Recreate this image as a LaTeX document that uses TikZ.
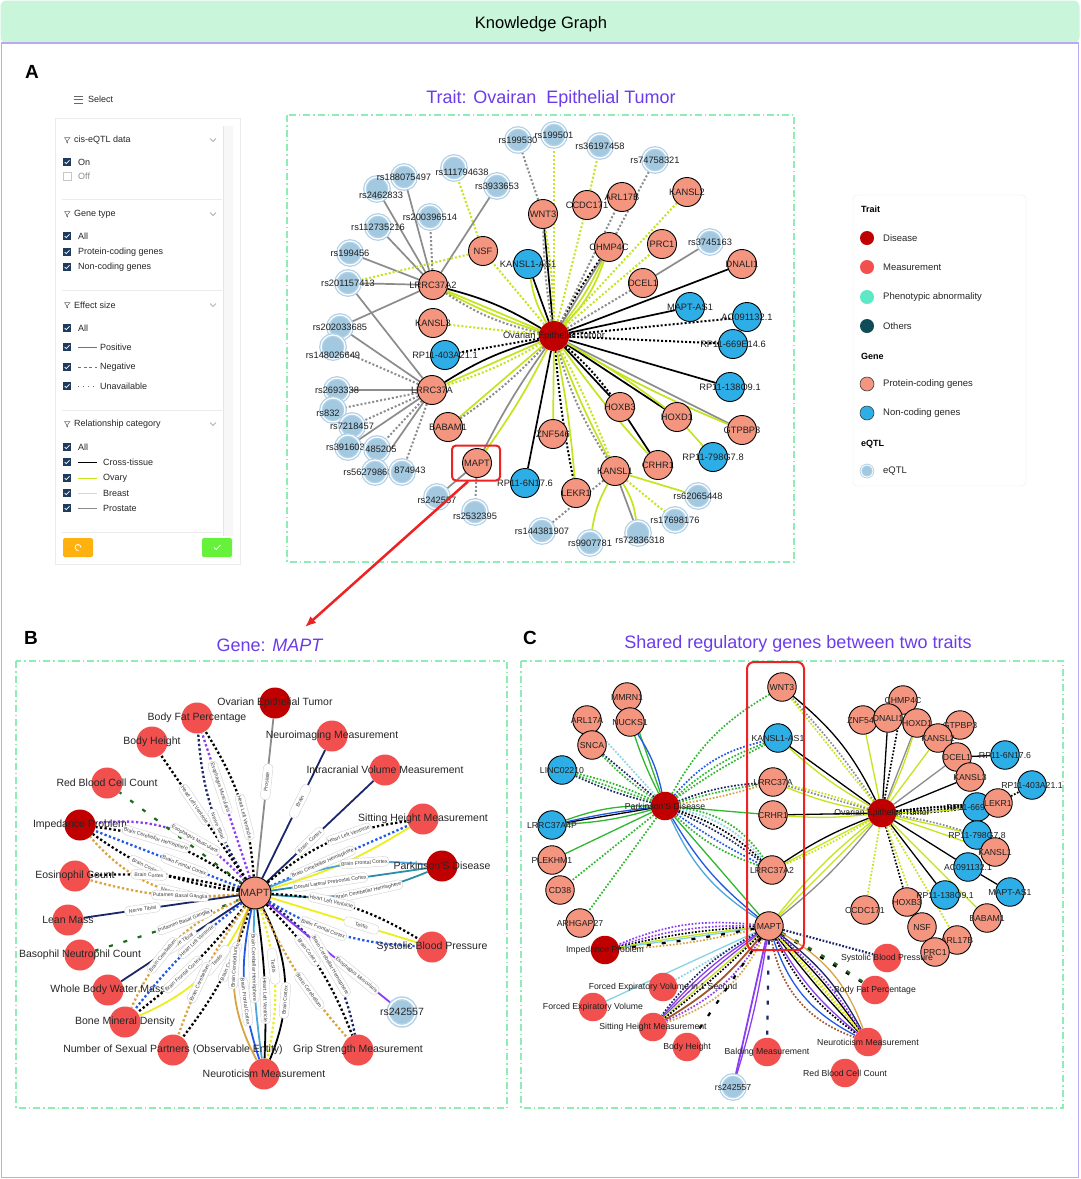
\documentclass[tikz,border=0pt]{standalone}
\usepackage{fontspec}
\setmainfont{Liberation Sans}
\usetikzlibrary{arrows.meta}
\pgfdeclarelayer{back}\pgfdeclarelayer{bg}
\pgfsetlayers{back,bg,main}
\newcommand\myfs[1]{\fontsize{#1}{#1}\selectfont}
\definecolor{hdrCol}{HTML}{C9F5DB}
\definecolor{frameCol}{HTML}{B9A9F3}
\definecolor{titleCol}{HTML}{6C3BEB}
\definecolor{boxCol}{HTML}{8EEDB5}
\definecolor{disCol}{HTML}{C00000}
\definecolor{measCol}{HTML}{F24F4F}
\definecolor{pcCol}{HTML}{F4957F}
\definecolor{ncCol}{HTML}{2DAEE6}
\definecolor{eqCol}{HTML}{A3C9E1}
\definecolor{eqRCol}{HTML}{B3D2E7}
\definecolor{phenCol}{HTML}{5FE8C5}
\definecolor{othCol}{HTML}{0F4C58}
\definecolor{limeCol}{HTML}{C4E41E}
\definecolor{yelCol}{HTML}{EDEE1C}
\definecolor{grayCol}{HTML}{8C8C8C}
\definecolor{navyCol}{HTML}{1B2768}
\definecolor{purpCol}{HTML}{8B3DF2}
\definecolor{blueCol}{HTML}{2258E6}
\definecolor{goldCol}{HTML}{D6A443}
\definecolor{tealCol}{HTML}{2A8EA6}
\definecolor{ltblCol}{HTML}{4BA6DE}
\definecolor{ltlCol}{HTML}{86D3E3}
\definecolor{grnCol}{HTML}{2EB82E}
\definecolor{brnCol}{HTML}{A0562A}
\definecolor{dgrnCol}{HTML}{1D6B1D}
\definecolor{cbCol}{HTML}{1E3A5C}
\definecolor{redCol}{HTML}{EE2222}
\definecolor{orCol}{HTML}{FFB20F}
\definecolor{gbCol}{HTML}{66F23A}
\tikzset{
 dbox/.style={draw=boxCol, line width=1.3pt, dash pattern=on 7pt off 3pt on 1.5pt off 3pt},
 lblA/.style={font=\myfs{9.3}, inner sep=0pt, text=black!88},
 geneA/.style={circle, draw=black, line width=0.9pt, minimum size=29pt, inner sep=0pt, label={[lblA]center:#1}},
 pcA/.style={geneA={#1}, fill=pcCol},
 ncA/.style={geneA={#1}, fill=ncCol},
 eqA/.style={circle, fill=eqCol, draw=eqRCol, double=white, double distance=1.2pt, line width=1.3pt, minimum size=24pt, inner sep=0pt, label={[lblA]center:#1}},
 eqAo/.style n args={3}{circle, fill=eqCol, draw=eqRCol, double=white, double distance=1.2pt, line width=1.3pt, minimum size=24pt, inner sep=0pt, label={[lblA,xshift=#2,yshift=#3]center:#1}},
 disA/.style={circle, fill=disCol, minimum size=30pt, inner sep=0pt, label={[lblA]center:#1}},
 solA/.style={line width=1.7pt},
 dotA/.style={line width=2pt, dash pattern=on 2pt off 2pt},
 lblB/.style={font=\myfs{10.5}, inner sep=0pt, text=black!85},
 msB/.style={circle, fill=measCol, minimum size=31pt, inner sep=0pt, label={[lblB]center:#1}},
 disB/.style={circle, fill=disCol, minimum size=31pt, inner sep=0pt, label={[lblB]center:#1}},
 eqB/.style={circle, fill=eqCol, draw=eqRCol, double=white, double distance=1.4pt, line width=1.5pt, minimum size=27pt, inner sep=0pt, label={[lblB]center:#1}},
 pcB/.style={circle, draw=black, line width=1pt, fill=pcCol, minimum size=32pt, inner sep=0pt, label={[lblB]center:#1}},
 solB/.style={line width=1.8pt},
 dotB/.style={line width=2.3pt, dash pattern=on 2.3pt off 2.3pt},
 tl/.style={draw=black!18, fill=white, rounded corners=4pt, font=\myfs{5.2}, inner sep=1.4pt, minimum height=9.5pt, minimum width=36pt, sloped, text=black!75},
 lblC/.style={font=\myfs{8.7}, inner sep=0pt, text=black!88},
 geneC/.style={circle, draw=black, line width=0.9pt, minimum size=28.5pt, inner sep=0pt, label={[lblC]center:#1}},
 pcG/.style={geneC={#1}, fill=pcCol},
 ncG/.style={geneC={#1}, fill=ncCol},
 msG/.style={circle, fill=measCol, minimum size=28.5pt, inner sep=0pt, label={[lblC]center:#1}},
 disG/.style={circle, fill=disCol, minimum size=28.5pt, inner sep=0pt, label={[lblC]center:#1}},
 eqG/.style={circle, fill=eqCol, draw=eqRCol, double=white, double distance=1.2pt, line width=1.3pt, minimum size=24pt, inner sep=0pt, label={[lblC]center:#1}},
 solC/.style={line width=1.3pt},
 dotC/.style={line width=1.7pt, dash pattern=on 1.7pt off 1.7pt},
 dashL/.style={line width=2.2pt, dash pattern=on 4pt off 11pt},
 sbtext/.style={anchor=west, font=\myfs{9}, text=black!85, inner sep=0pt},
 chk/.pic={\fill[cbCol] (-4.2,-4.2) rectangle (4.2,4.2); \draw[white,line width=0.7pt] (-2.3,0) -- (-0.7,1.7) -- (2.5,-1.8);},
 funnel/.pic={\draw[black!60, line width=0.5pt] (-2.5,-2.5) -- (3,-2.5) -- (0.7,0.5) -- (0.7,3) -- (-0.5,2) -- (-0.5,0.5) -- cycle;},
}
\newcommand\bedge[5]{\begin{pgfonlayer}{bg}\draw[#1] (bM) to[#2] (#5);\end{pgfonlayer}\path (bM) to[#2] node[tl,pos=#3]{#4} (#5);}
\newcommand\bline[3]{\begin{pgfonlayer}{bg}\draw[#1] (bM) to[#2] (#3);\end{pgfonlayer}}
\begin{document}
\begin{tikzpicture}[x=1pt,y=-1pt]
\useasboundingbox (0,0) rectangle (1080,1179);
\begin{pgfonlayer}{back}
\fill[white] (0,0) rectangle (1080,1179);
\path[fill=hdrCol, rounded corners=6pt] (0.5,0.5) rectangle (1079.5,43);
\draw[frameCol, line width=1.5pt] (1.5,43) rectangle (1078.5,1177.5);
\draw[dbox] (287,115) rectangle (794,562);
\draw[dbox] (16,661) rectangle (507,1108);
\draw[dbox] (521,661) rectangle (1063,1108);
\end{pgfonlayer}
\node[font=\myfs{16.5}] (hdr) at (541,24) {Knowledge Graph};
\node[font=\bfseries\myfs{19}] (LA) at (32,72) {A};
\node[font=\bfseries\myfs{19}] (LB) at (31,638) {B};
\node[font=\bfseries\myfs{19}] (LC) at (530,638) {C};
\node[font=\myfs{18}, text=titleCol] (tA) at (551,99) {Trait: Ovairan\ \ Epithelial Tumor};
\node[font=\myfs{18}, text=titleCol] (tB) at (270,645) {Gene: \textit{MAPT}};
\node[font=\myfs{18}, text=titleCol] (tC) at (798,644) {Shared regulatory genes between two traits};
% ---------------- sidebar
\draw[black!60, line width=0.6pt] (74,96) -- (83,96) (74,99.5) -- (83,99.5) (74,103) -- (83,103);
\node[sbtext] (sel) at (88,99.5) {Select};
\node[fill=white, draw=black!8, minimum width=185pt, minimum height=446pt, anchor=north west] (sb) at (55,118) {};
\fill[black!3] (223,126) rectangle (233,536);
\draw[black!10] (223,126) -- (223,536);
\foreach \yy in {199,290,410,532} {\draw[black!8] (62,\yy) -- (222,\yy);}
\foreach \yy in {140,214,305,424} {\pic at (67,\yy) {funnel}; \draw[black!45, line width=0.5pt] (210,\yy-1.5) -- (213,\yy+1.5) -- (216,\yy-1.5);}
\node[sbtext] (s1) at (74,140) {cis-eQTL data};
\pic at (67,162) {chk}; \node[sbtext] (s1a) at (78,162) {On};
\draw[black!22] (63,172) rectangle (71,180); \node[sbtext, text=black!45] (s1b) at (78,176) {Off};
\node[sbtext] (s2) at (74,214) {Gene type};
\pic at (67,236) {chk}; \node[sbtext] (s2a) at (78,236) {All};
\pic at (67,252) {chk}; \node[sbtext] (s2b) at (78,252) {Protein-coding genes};
\pic at (67,267) {chk}; \node[sbtext] (s2c) at (78,267) {Non-coding genes};
\node[sbtext] (s3) at (74,305) {Effect size};
\pic at (67,328) {chk}; \node[sbtext] (s3a) at (78,328) {All};
\pic at (67,347) {chk}; \draw[black!55, line width=0.6pt] (78,347) -- (97,347); \node[sbtext] (s3b) at (100,347) {Positive};
\pic at (67,367) {chk}; \draw[black!55, line width=0.6pt, dash pattern=on 3pt off 2.5pt] (78,367) -- (97,367); \node[sbtext] (s3c) at (100,367) {Negative};
\pic at (67,386) {chk}; \draw[black!55, line width=0.6pt, dash pattern=on 1pt off 4pt] (78,386) -- (97,386); \node[sbtext] (s3d) at (100,386) {Unavailable};
\node[sbtext] (s4) at (74,424) {Relationship category};
\pic at (67,447) {chk}; \node[sbtext] (s4a) at (78,447) {All};
\pic at (67,462) {chk}; \draw[black, line width=0.7pt] (78,462) -- (97,462); \node[sbtext] (s4b) at (103,462) {Cross-tissue};
\pic at (67,478) {chk}; \draw[limeCol, line width=0.9pt] (78,478) -- (97,478); \node[sbtext] (s4c) at (103,478) {Ovary};
\pic at (67,493) {chk}; \draw[yelCol, line width=0.9pt] (78,493) -- (97,493); \node[sbtext] (s4d) at (103,493) {Breast};
\pic at (67,508) {chk}; \draw[grayCol, line width=0.7pt] (78,508) -- (97,508); \node[sbtext] (s4e) at (103,508) {Prostate};
\node[fill=orCol, rounded corners=1.5pt, minimum width=30pt, minimum height=19pt] (bt1) at (78,547.5) {};
\draw[white, line width=0.8pt] ([xshift=3pt]bt1.center) arc[start angle=0, end angle=280, radius=3pt];
\node[fill=gbCol, rounded corners=1.5pt, minimum width=30pt, minimum height=19pt] (bt2) at (217,547.5) {};
\draw[white, line width=0.8pt] ([xshift=-3pt]bt2.center) -- ([xshift=-0.8pt,yshift=-2pt]bt2.center) -- ([xshift=3.5pt,yshift=2.5pt]bt2.center);
% ---------------- legend
\node[draw=black!7, fill=white, rounded corners=4pt, minimum width=173pt, minimum height=291pt] (leg) at (939.5,340.5) {};
\node[font=\bfseries\myfs{9}, anchor=west, inner sep=0] (lgT) at (861,209) {Trait};
\node[circle, fill=disCol, minimum size=14pt, inner sep=0] (lg1) at (867,238) {};
\node[anchor=west, font=\myfs{9.5}, inner sep=0, text=black!85] (lg1t) at (883,238) {Disease};
\node[circle, fill=measCol, minimum size=14pt, inner sep=0] (lg2) at (867,267) {};
\node[anchor=west, font=\myfs{9.5}, inner sep=0, text=black!85] (lg2t) at (883,267) {Measurement};
\node[circle, fill=phenCol, minimum size=14pt, inner sep=0] (lg3) at (867,297) {};
\node[anchor=west, font=\myfs{9.5}, inner sep=0, text=black!85] (lg3t) at (883,297) {Phenotypic abnormality};
\node[circle, fill=othCol, minimum size=14pt, inner sep=0] (lg4) at (867,326) {};
\node[anchor=west, font=\myfs{9.5}, inner sep=0, text=black!85] (lg4t) at (883,326) {Others};
\node[font=\bfseries\myfs{9}, anchor=west, inner sep=0] (lgG) at (861,356) {Gene};
\node[circle, fill=pcCol, draw=black!75, line width=0.6pt, minimum size=14pt, inner sep=0] (lg5) at (867,384) {};
\node[anchor=west, font=\myfs{9.5}, inner sep=0, text=black!85] (lg5t) at (883,384) {Protein-coding genes};
\node[circle, fill=ncCol, draw=black!75, line width=0.6pt, minimum size=14pt, inner sep=0] (lg6) at (867,413) {};
\node[anchor=west, font=\myfs{9.5}, inner sep=0, text=black!85] (lg6t) at (883,413) {Non-coding genes};
\node[font=\bfseries\myfs{9}, anchor=west, inner sep=0] (lgE) at (861,444) {eQTL};
\node[circle, fill=eqCol, draw=eqRCol, double=white, double distance=0.8pt, line width=0.9pt, minimum size=12pt, inner sep=0] (lg7) at (867,471) {};
\node[anchor=west, font=\myfs{9.5}, inner sep=0, text=black!85] (lg7t) at (883,471) {eQTL};
% ---------------- panel A nodes
\node[eqA=rs199530] (ar199530) at (518,140) {};
\node[eqA=rs199501] (ar199501) at (554,135) {};
\node[eqA=rs36197458] (ar36197458) at (600,146) {};
\node[eqA=rs74758321] (ar74758321) at (655,160) {};
\node[eqAo={rs2462833}{4pt}{-6pt}] (ar2462833) at (377,189) {};
\node[eqA=rs188075497] (ar188075497) at (404,177) {};
\node[eqAo={rs111794638}{8pt}{-4pt}] (ar111794638) at (454,168) {};
\node[eqA=rs3933653] (ar3933653) at (497,186) {};
\node[eqA=rs200396514] (ar200396514) at (430,217) {};
\node[eqA=rs112735216] (ar112735216) at (378,227) {};
\node[eqA=rs199456] (ar199456) at (350,253) {};
\node[eqA=rs201157413] (ar201157413) at (348,283) {};
\node[eqA=rs202033685] (ar202033685) at (340,327) {};
\node[eqAo={rs148026649}{0pt}{-8pt}] (ar148026649) at (333,347) {};
\node[eqA=rs2693338] (ar2693338) at (337,390) {};
\node[eqAo={rs832}{-5pt}{-3pt}] (ar832) at (333,410) {};
\node[eqA=rs7218457] (ar7218457) at (352,426) {};
\node[eqA=rs3916033] (ar3916033) at (348,447) {};
\node[eqAo={485205}{4pt}{0pt}] (ar485205) at (377,449) {};
\node[eqAo={rs56279866}{-7pt}{0pt}] (ar56279866) at (375,472) {};
\node[eqAo={874943}{8pt}{2pt}] (ar874943) at (402,472) {};
\node[eqA=rs3745163] (ar3745163) at (710,242) {};
\node[eqA=rs62065448] (ar62065448) at (698,496) {};
\node[eqAo={rs242557}{0pt}{-3pt}] (ar242557) at (437,497) {};
\node[eqAo={rs2532395}{0pt}{-4pt}] (ar2532395) at (475,512) {};
\node[eqA=rs17698176] (ar17698176) at (675,520) {};
\node[eqA=rs144381907] (ar144381907) at (542,531) {};
\node[eqAo={rs72836318}{2pt}{-7pt}] (ar72836318) at (638,533) {};
\node[eqA=rs9907781] (ar9907781) at (590,543) {};
\node[pcA=WNT3] (aWNT3) at (543,214) {};
\node[pcA=CCDC171] (aCCDC171) at (587,205) {};
\node[pcA=ARL17B] (aARL17B) at (622,197) {};
\node[pcA=KANSL2] (aKANSL2) at (687,192) {};
\node[pcA=NSF] (aNSF) at (483,251) {};
\node[ncA=KANSL1-AS1] (aKAS1) at (528,264) {};
\node[pcA=CHMP4C] (aCHMP4C) at (609,247) {};
\node[pcA=PRC1] (aPRC1) at (662,244) {};
\node[pcA=DNALI1] (aDNALI1) at (742,264) {};
\node[pcA=LRRC37A2] (aL2) at (433,285) {};
\node[pcA=DCEL1] (aDCEL1) at (643,283) {};
\node[ncA=MAPT-AS1] (aMAS1) at (690,307) {};
\node[ncA=AC091132.1] (aAC09) at (747,317) {};
\node[pcA=KANSL3] (aKANSL3) at (433,323) {};
\node[ncA=RP11-403A21.1] (aRP403) at (445,355) {};
\node[ncA=RP11-669E14.6] (aRP669) at (733,344) {};
\node[pcA=LRRC37A] (aL1) at (432,390) {};
\node[ncA=RP11-138O9.1] (aRP138) at (730,387) {};
\node[pcA=HOXB3] (aHOXB3) at (620,407) {};
\node[pcA=HOXD1] (aHOXD1) at (677,417) {};
\node[pcA=GTPBP3] (aGTPBP3) at (742,430) {};
\node[pcA=BABAM1] (aBABAM1) at (448,427) {};
\node[pcA=ZNF546] (aZNF546) at (553,434) {};
\node[ncA=RP11-798G7.8] (aRP798) at (713,457) {};
\node[pcA=MAPT] (aMAPT) at (477,463) {};
\node[pcA=CRHR1] (aCRHR1) at (658,465) {};
\node[pcA=KANSL1] (aKANSL1) at (615,471) {};
\node[ncA=RP11-6N17.6] (aRP6N) at (525,483) {};
\node[pcA=LEKR1] (aLEKR1) at (576,493) {};
\node[disA=Ovarian Epithelial Tumor] (aO) at (554,336) {};
\node[draw=redCol, line width=2pt, rounded corners=4pt, minimum width=48pt, minimum height=35pt] (aBox) at (476,463) {};
\coordinate (aEnd) at (305,627);
\draw[redCol, line width=2.5pt, -{Latex[length=11pt,width=9pt]}] ([xshift=-8pt]aBox.south) -- (aEnd);
\begin{pgfonlayer}{bg}
\draw[solA] (aO) -- (aWNT3);
\draw[dotA,grayCol] (aO) to[bend left=4] (aWNT3);
\draw[dotA,limeCol] (aO) to[bend right=4] (aWNT3);
\draw[solA] (aO) -- (aKAS1);
\draw[solA,limeCol] (aO) to[bend left=10] (aKAS1);
\draw[solA,limeCol] (aO) to[bend right=6] (aCHMP4C);
\draw[solA,limeCol] (aO) to[bend right=12] (aCHMP4C);
\draw[dotA] (aO) to[bend left=4] (aCHMP4C);
\draw[solA,grayCol] (aO) -- (aCHMP4C);
\draw[dotA,limeCol] (aO) -- (aCCDC171);
\draw[dotA,grayCol] (aO) -- (aARL17B);
\draw[dotA,limeCol] (aO) -- (aKANSL2);
\draw[dotA,limeCol] (aO) -- (aPRC1);
\draw[dotA,grayCol] (aO) -- (aDCEL1);
\draw[solA] (aO) -- (aDNALI1);
\draw[solA] (aO) -- (aMAS1);
\draw[dotA] (aO) -- (aAC09);
\draw[dotA] (aO) -- (aRP669);
\draw[solA] (aO) -- (aRP138);
\draw[solA,grayCol] (aO) -- (aGTPBP3);
\draw[solA,limeCol] (aO) to[bend right=4] (aGTPBP3);
\draw[solA] (aO) -- (aHOXD1);
\draw[solA,limeCol] (aO) to[bend left=4] (aHOXD1);
\draw[solA] (aO) -- (aHOXB3);
\draw[dotA] (aO) to[bend left=6] (aHOXB3);
\draw[solA,limeCol] (aO) to[bend right=3] (aCRHR1);
\draw[dotA,limeCol] (aO) to[bend left=3] (aKANSL1);
\draw[solA,limeCol] (aO) to[bend right=3] (aKANSL1);
\draw[dotA,grayCol] (aO) to[bend right=8] (aKANSL1);
\draw[solA,limeCol] (aO) to[bend left=3] (aLEKR1);
\draw[dotA] (aO) to[bend right=3] (aLEKR1);
\draw[solA,limeCol] (aO) -- (aZNF546);
\draw[solA] (aO) -- (aRP6N);
\draw[solA,limeCol] (aO) to[bend left=4] (aMAPT);
\draw[solA,grayCol] (aO) to[bend right=4] (aMAPT);
\draw[solA,limeCol] (aO) -- (aBABAM1);
\draw[dotA,grayCol] (aO) to[bend left=6] (aBABAM1);
\draw[solA] (aO) to[bend right=8] (aL1);
\draw[solA,limeCol] (aO) -- (aL1);
\draw[dotA,limeCol] (aO) to[bend left=6] (aL1);
\draw[dotA] (aO) -- (aRP403);
\draw[dotA,limeCol] (aO) -- (aKANSL3);
\draw[solA] (aO) to[bend right=8] (aL2);
\draw[solA,limeCol] (aO) -- (aL2);
\draw[solA,limeCol] (aO) to[bend left=5] (aL2);
\draw[dotA,grayCol] (aO) to[bend left=10] (aL2);
\draw[dotA,limeCol] (aO) -- (aNSF);
\draw[dotA,limeCol] (aO) -- (ar199501);
\draw[dotA,grayCol] (aWNT3) -- (ar199530);
\draw[dotA,limeCol] (aCCDC171) -- (ar36197458);
\draw[dotA,grayCol] (aCHMP4C) -- (ar74758321);
\draw[dotA,limeCol] (aNSF) -- (ar111794638);
\draw[solA,grayCol] (aL2) -- (ar3933653);
\draw[solA,grayCol] (aL2) -- (ar188075497);
\draw[solA,grayCol] (aL2) -- (ar2462833);
\draw[dotA,grayCol] (aL2) -- (ar200396514);
\draw[solA,grayCol] (aL2) -- (ar112735216);
\draw[solA,grayCol] (aL2) -- (ar199456);
\draw[solA,grayCol] (aL2) -- (ar201157413);
\draw[dotA,limeCol] (aNSF) -- (ar201157413);
\draw[solA,grayCol] (aL2) -- (ar202033685);
\draw[solA,grayCol] (aL1) -- (ar201157413);
\draw[solA,grayCol] (aL1) -- (ar202033685);
\draw[dotA,grayCol] (aL1) -- (ar148026649);
\draw[solA,grayCol] (aL1) -- (ar2693338);
\draw[dotA,grayCol] (aL1) -- (ar832);
\draw[dotA,grayCol] (aL1) -- (ar7218457);
\draw[solA,grayCol] (aL1) -- (ar3916033);
\draw[dotA,grayCol] (aL1) -- (ar485205);
\draw[solA,grayCol] (aL1) -- (ar56279866);
\draw[dotA,grayCol] (aL1) -- (ar874943);
\draw[solA,grayCol] (aDCEL1) -- (ar3745163);
\draw[solA] (aHOXB3) -- (aCRHR1);
\draw[solA,limeCol] (aHOXD1) -- (aRP798);
\draw[solA,limeCol] (aKANSL1) -- (ar62065448);
\draw[dotA,limeCol] (aKANSL1) -- (ar17698176);
\draw[solA,grayCol] (aKANSL1) -- (ar72836318);
\draw[solA,limeCol] (aKANSL1) to[bend right=10] (ar9907781);
\draw[solA,limeCol] (aKANSL1) to[bend left=12] (ar72836318);
\draw[dotA,grayCol] (aKANSL1) -- (ar144381907);
\draw[solA,grayCol] (aMAPT) -- (ar242557);
\draw[dotA,grayCol] (aMAPT) -- (ar2532395);
\end{pgfonlayer}
% ---------------- panel B
\node[pcB=MAPT] (bM) at (255,893) {};
\node[disB=Ovarian Epithelial Tumor] (bOva) at (275,703) {};
\node[msB=Body Fat Percentage] (bBFP) at (197,718) {};
\node[msB=Body Height] (bBH) at (152,742) {};
\node[msB=Neuroimaging Measurement] (bNeuro) at (332,736) {};
\node[msB=Intracranial Volume Measurement] (bIntra) at (385,770) {};
\node[msB=Red Blood Cell Count] (bRBC) at (107,783) {};
\node[disB=Impedance Problem] (bImp) at (80,825) {};
\node[msB=Sitting Height Measurement] (bSit) at (423,819) {};
\node[disB=Parkinson'S Disease] (bPark) at (442,866) {};
\node[msB=Eosinophil Count] (bEos) at (75,876) {};
\node[msB=Lean Mass] (bLean) at (68,920) {};
\node[msB=Basophil Neutrophil Count] (bBaso) at (80,955) {};
\node[msB=Systolic Blood Pressure] (bSBP) at (432,947) {};
\node[msB=Whole Body Water Mass] (bWBW) at (108,990) {};
\node[eqB=rs242557] (brs) at (402,1012) {};
\node[msB=Bone Mineral Density] (bBone) at (125,1022) {};
\node[msB=Number of Sexual Partners (Observable Entity)] (bNum) at (173,1050) {};
\node[msB=Grip Strength Measurement] (bGrip) at (358,1050) {};
\node[msB=Neuroticism Measurement] (bNeu) at (264,1074) {};
\bedge{solB,grayCol}{}{0.6}{Prostate}{bOva}
\bedge{dotB,black}{bend right=14}{0.38}{Heart Left Ventricle}{bBFP}
\bedge{dotB,purpCol}{}{0.62}{Esophagus Muscularis}{bBFP}
\bedge{dotB,navyCol}{bend left=14}{0.38}{Nerve Tibial}{bBFP}
\bedge{dotB,black}{}{0.6}{Heart Left Ventricle}{bBH}
\bedge{solB,navyCol}{}{0.6}{Brain}{bNeuro}
\bedge{solB,navyCol}{}{0.4}{Brain\ \ Cortex}{bIntra}
\bedge{dotB,black}{bend left=16}{0.62}{Heart Left Ventricle}{bSit}
\bedge{dotB,blueCol}{}{0.38}{Brain Cerebellar Hemisphere}{bSit}
\bline{solB,yelCol}{bend right=8}{bSit}
\bedge{solB,ltblCol}{bend left=14}{0.62}{Brain Frontal Cortex}{bPark}
\bedge{solB,tealCol}{}{0.38}{Dorsal Lateral Prefrontal Cortex}{bPark}
\bedge{solB,tealCol}{bend right=14}{0.62}{Brain Cerebellar Hemisphere}{bPark}
\bedge{dotB,purpCol}{bend right=28}{0.38}{Esophagus Muscularis}{bImp}
\bedge{dotB,black}{bend right=14}{0.62}{Brain Cerebellar Hemisphere}{bImp}
\bedge{dotB,blueCol}{}{0.38}{Brain Frontal Cortex}{bImp}
\bedge{dotB,black}{bend left=14}{0.62}{Brain Cortex}{bImp}
\bedge{dotB,goldCol}{bend left=28}{0.38}{Nerve Tibial}{bImp}
\bline{dashL,dgrnCol}{}{bRBC}
\bedge{dotB,black}{bend right=8}{0.62}{Brain Cortex}{bEos}
\bedge{dotB,goldCol}{bend left=10}{0.38}{Putamen Basal Ganglia}{bEos}
\bedge{solB,navyCol}{}{0.62}{Nerve Tibial}{bLean}
\bedge{dashL,dgrnCol}{bend left=3}{0.38}{Putamen Basal Ganglia}{bBaso}
\bedge{solB,navyCol}{}{0.5}{Nerve Tibial}{bWBW}
\bedge{solB,yelCol}{bend left=21}{0.38}{Testis}{bBone}
\bedge{dotB,black}{bend left=7}{0.62}{Brain Frontal Cortex}{bBone}
\bedge{dotB,blueCol}{bend right=7}{0.38}{Heart Left Ventricle}{bBone}
\bedge{dotB,goldCol}{bend right=21}{0.62}{Brain Cerebellum}{bBone}
\bedge{dotB,black}{bend left=10}{0.38}{Brain Cerebellum}{bNum}
\bedge{dotB,goldCol}{bend right=8}{0.62}{Brain Cerebellum}{bNum}
\bedge{solB,goldCol}{bend right=25}{0.38}{Brain Cerebellum}{bNeu}
\bedge{solB,blueCol}{bend right=15}{0.62}{Brain Frontal Cortex}{bNeu}
\bedge{solB,ltblCol}{bend right=5}{0.38}{Brain Cerebellar Hemisphere}{bNeu}
\bedge{solB,black}{bend left=5}{0.62}{Heart Left Ventricle}{bNeu}
\bedge{dotB,yelCol}{bend left=15}{0.38}{Testis}{bNeu}
\bedge{solB,black}{bend left=25}{0.62}{Brain Cortex}{bNeu}
\bedge{dotB,black}{bend left=12}{0.38}{Brain Cortex}{bGrip}
\bedge{dotB,goldCol}{bend right=8}{0.62}{Brain Cerebellum}{bGrip}
\bedge{dotB,navyCol}{bend left=22}{0.55}{Brain Cerebellar Hemisphere}{bGrip}
\bedge{solB,purpCol}{}{0.72}{Esophagus Muscularis}{brs}
\bedge{dotB,black}{bend left=14}{0.38}{Heart Left Ventricle}{bSBP}
\bedge{solB,yelCol}{}{0.62}{Testis}{bSBP}
\bedge{dotB,blueCol}{bend right=14}{0.38}{Brain Frontal Cortex}{bSBP}
% ---------------- panel C nodes
\node[disG=Parkinson'S Disease] (cP) at (665,806) {};
\node[pcG=MMRN1] (cMMRN1) at (627,697) {};
\node[pcG=NUCKS1] (cNUCKS1) at (630,722) {};
\node[pcG=ARL17A] (cARL17A) at (587,720) {};
\node[pcG=SNCA] (cSNCA) at (592,745) {};
\node[ncG=LINC02210] (cLINC) at (562,770) {};
\node[ncG=LRRC37A4P] (cL4P) at (552,825) {};
\node[pcG=PLEKHM1] (cPLEK) at (552,860) {};
\node[pcG=CD38] (cCD38) at (560,890) {};
\node[pcG=ARHGAP27] (cARHG) at (580,923) {};
\node[pcG=WNT3] (cWNT3) at (782,687) {};
\node[ncG=KANSL1-AS1] (cKAS1) at (778,738) {};
\node[pcG=LRRC37A] (cL1) at (773,782) {};
\node[pcG=CRHR1] (cCRHR1) at (773,815) {};
\node[pcG=LRRC37A2] (cL2) at (772,870) {};
\node[pcG=MAPT] (cM) at (769,926) {};
\node[pcG=CHMP4C] (cCHMP4C) at (903,700) {};
\node[pcG=ZNF546] (cZNF) at (863,720) {};
\node[pcG=DNALI1] (cDNALI1) at (888,718) {};
\node[pcG=HOXD1] (cHOXD1) at (917,723) {};
\node[pcG=GTPBP3] (cGTPBP3) at (960,725) {};
\node[pcG=KANSL2] (cKANSL2) at (938,738) {};
\node[pcG=DCEL1] (cDCEL1) at (957,757) {};
\node[ncG=RP11-6N17.6] (cRP6N) at (1005,755) {};
\node[pcG=KANSL3] (cKANSL3) at (970,777) {};
\node[ncG=RP11-403A21.1] (cRP403) at (1032,785) {};
\node[ncG=RP11-669E14.6] (cRP669) at (977,807) {};
\node[pcG=LEKR1] (cLEKR1) at (998,803) {};
\node[ncG=RP11-798G7.8] (cRP798) at (977,835) {};
\node[pcG=KANSL1] (cKANSL1) at (995,852) {};
\node[ncG=AC091132.1] (cAC09) at (968,867) {};
\node[ncG=MAPT-AS1] (cMAS1) at (1010,892) {};
\node[pcG=CCDC171] (cCCDC) at (865,910) {};
\node[pcG=HOXB3] (cHOXB3) at (907,902) {};
\node[ncG=RP11-138O9.1] (cRP138) at (945,895) {};
\node[pcG=BABAM1] (cBABAM1) at (987,918) {};
\node[pcG=NSF] (cNSF) at (922,927) {};
\node[pcG=ARL17B] (cARL17B) at (957,940) {};
\node[pcG=PRC1] (cPRC1) at (935,952) {};
\node[disG=Ovarian Epithelial Tumor] (cO) at (882,813) {};
\node[disG=Impedance Problem] (cImp) at (605,950) {};
\node[msG=Forced Expiratory Volume in 1 Second] (cFEV1) at (663,987) {};
\node[msG=Forced Expiratory Volume] (cFEV) at (593,1007) {};
\node[msG=Sitting Height Measurement] (cSit) at (653,1027) {};
\node[msG=Body Height] (cBH) at (687,1047) {};
\node[msG=Balding Measurement] (cBald) at (767,1052) {};
\node[eqG=rs242557] (crs) at (733,1087) {};
\node[msG=Systolic Blood Pressure] (cSBP) at (887,958) {};
\node[msG=Body Fat Percentage] (cBFP) at (875,990) {};
\node[msG=Neuroticism Measurement] (cNeu) at (868,1042) {};
\node[msG=Red Blood Cell Count] (cRBC) at (845,1073) {};
\node[draw=redCol, line width=2pt, rounded corners=7pt, minimum width=57pt, minimum height=288pt] (cBox) at (775.5,806) {};
\begin{pgfonlayer}{bg}
\draw[solC,grnCol] (cP) -- (cMMRN1);
\draw[solC,grnCol] (cP) to[bend left=4] (cNUCKS1);
\draw[solC,blueCol] (cP) to[bend right=10] (cNUCKS1);
\draw[dotC,ltlCol] (cP) -- (cARL17A);
\draw[dotC,navyCol] (cP) -- (cSNCA);
\draw[dotC,grnCol] (cP) to[bend left=6] (cSNCA);
\draw[dotC,navyCol] (cP) to[bend left=5] (cLINC);
\draw[dotC,grnCol] (cP) -- (cLINC);
\draw[dotC,grnCol] (cP) to[bend right=6] (cLINC);
\draw[solC,grnCol] (cP) to[bend left=6] (cL4P);
\draw[solC,black] (cP) -- (cL4P);
\draw[solC,blueCol] (cP) to[bend right=3] (cL4P);
\draw[solC,grnCol] (cP) to[bend right=10] (cL4P);
\draw[solC,grnCol] (cP) -- (cPLEK);
\draw[dotC,grnCol] (cP) -- (cCD38);
\draw[dotC,grnCol] (cP) -- (cARHG);
\draw[dotC,grnCol] (cP) to[bend left=15] (cWNT3);
\draw[dotC,blueCol] (cP) to[bend left=18] (cKAS1);
\draw[dotC,grnCol] (cP) to[bend left=10] (cKAS1);
\draw[dotC,grnCol] (cP) to[bend left=4] (cKAS1);
\draw[dotC,navyCol] (cP) to[bend left=8] (cL1);
\draw[dotC,grnCol] (cP) to[bend left=3] (cL1);
\draw[dotC,goldCol] (cP) to[bend right=4] (cL1);
\draw[solC,grnCol] (cP) -- (cCRHR1);
\draw[dotC,navyCol] (cP) to[bend left=6] (cL2);
\draw[dotC,black] (cP) to[bend left=12] (cL2);
\draw[dotC,ltlCol] (cP) to[bend left=18] (cL2);
\draw[dotC,blueCol] (cP) to[bend right=4] (cL2);
\draw[dotC,grnCol] (cP) to[bend left=24] (cL2);
\draw[dotC,grnCol] (cP) to[bend right=12] (cL2);
\draw[solC,grnCol] (cP) -- (cM);
\draw[solC,blueCol] (cP) to[bend right=10] (cM);
\draw[solC,ltblCol] (cP) to[bend right=16] (cM);
\draw[solC,black] (cO) to[bend right=12] (cWNT3);
\draw[dotC,grayCol] (cO) to[bend right=4] (cWNT3);
\draw[dotC,limeCol] (cO) -- (cWNT3);
\draw[solC,black] (cO) -- (cKAS1);
\draw[solC,limeCol] (cO) to[bend left=6] (cKAS1);
\draw[dotC,limeCol] (cO) to[bend right=4] (cL1);
\draw[dotC,grayCol] (cO) -- (cL1);
\draw[solC,limeCol] (cO) to[bend left=6] (cL1);
\draw[solC,black] (cO) -- (cCRHR1);
\draw[solC,limeCol] (cO) to[bend left=5] (cCRHR1);
\draw[solC,black] (cO) to[bend right=6] (cL2);
\draw[dotC,limeCol] (cO) to[bend left=4] (cL2);
\draw[solC,limeCol] (cO) -- (cL2);
\draw[solC,limeCol] (cO) -- (cM);
\draw[solC,grayCol] (cO) to[bend left=6] (cM);
\draw[solC,limeCol] (cO) to[bend right=6] (cM);
\draw[dotC] (cO) -- (cCHMP4C);
\draw[solC] (cO) -- (cDNALI1);
\draw[solC,limeCol] (cO) -- (cZNF);
\draw[solC,grayCol] (cO) -- (cHOXD1);
\draw[solC,limeCol] (cO) to[bend right=4] (cHOXD1);
\draw[solC,limeCol] (cO) -- (cKANSL2);
\draw[solC,grayCol] (cO) -- (cDCEL1);
\draw[solC] (cO) -- (cKANSL3);
\draw[dotC] (cO) -- (cRP669);
\draw[dotC] (cO) to[bend left=4] (cRP669);
\draw[dotC] (cO) to[bend right=4] (cRP669);
\draw[dotC] (cO) to[bend left=2] (cLEKR1);
\draw[solC,limeCol] (cO) to[bend right=3] (cRP669);
\draw[solC,limeCol] (cO) -- (cRP798);
\draw[dotC,grayCol] (cO) to[bend left=4] (cRP798);
\draw[solC,limeCol] (cO) -- (cKANSL1);
\draw[solC] (cO) -- (cAC09);
\draw[solC] (cO) -- (cRP138);
\draw[dotC] (cO) -- (cHOXB3);
\draw[dotC,limeCol] (cO) -- (cCCDC);
\draw[solC,limeCol] (cO) -- (cBABAM1);
\draw[dotC,limeCol] (cO) -- (cNSF);
\draw[dotC,limeCol] (cO) -- (cARL17B);
\draw[solC] (cDCEL1) -- (cRP6N);
\draw[dotC] (cLEKR1) -- (cRP403);
\draw[solC] (cAC09) -- (cMAS1);
\draw[dotC,purpCol] (cM) to[bend right=14] (cImp);
\draw[dotC,purpCol] (cM) to[bend right=9] (cImp);
\draw[dotC,black] (cM) to[bend right=5] (cImp);
\draw[solC,limeCol] (cM) to[bend right=2] (cImp);
\draw[solC,ltlCol] (cM) -- (cImp);
\draw[dotC,goldCol] (cM) to[bend left=5] (cImp);
\draw[dashL,black] (cM) to[bend left=2] (cImp);
\draw[dotC,ltlCol] (cM) -- (cFEV1);
\draw[solC,ltlCol] (cM) -- (cFEV);
\draw[solC,purpCol] (cM) to[bend right=4] (cSit);
\draw[solC,purpCol] (cM) to[bend right=8] (cSit);
\draw[solC,limeCol] (cM) -- (cSit);
\draw[dotC,black] (cM) to[bend left=3] (cSit);
\draw[solC,brnCol,line width=1.8pt] (cM) to[bend left=10] (cSit);
\draw[dotC,purpCol] (cM) to[bend left=16] (cSit);
\draw[dotC,goldCol] (cM) to[bend left=22] (cSit);
\draw[dotC,navyCol] (cM) to[bend right=12] (cSit);
\draw[dashL,black] (cM) -- (cBH);
\draw[dashL,navyCol] (cM) -- (cBald);
\draw[solC,purpCol,line width=1.8pt] (cM) -- (crs);
\draw[solC,purpCol] (cM) to[bend left=4] (crs);
\draw[dotC,navyCol,line width=2.2pt] (cM) -- (cSBP);
\draw[dashL,black] (cM) -- (cBFP);
\draw[dashL,dgrnCol] (cM) to[bend left=3] (cBFP);
\draw[solC,navyCol] (cM) to[bend left=12] (cNeu);
\draw[solC,goldCol] (cM) to[bend left=20] (cNeu);
\draw[solC,black] (cM) to[bend left=5] (cNeu);
\draw[solC,black] (cM) to[bend right=3] (cNeu);
\draw[solC,purpCol] (cM) to[bend right=10] (cNeu);
\draw[solC,blueCol] (cM) to[bend right=22] (cNeu);
\draw[dotC,brnCol] (cM) to[bend right=30] (cNeu);
\draw[dotC,limeCol] (cM) -- (cNeu);
\draw[dotC,purpCol] (cM) to[bend left=8] (cNeu);
\draw[dotC,black] (cM) to[bend right=14] (cNeu);
\draw[dotC,yelCol] (cM) to[bend left=2] (cNeu);
\end{pgfonlayer}
\end{tikzpicture}
\end{document}
